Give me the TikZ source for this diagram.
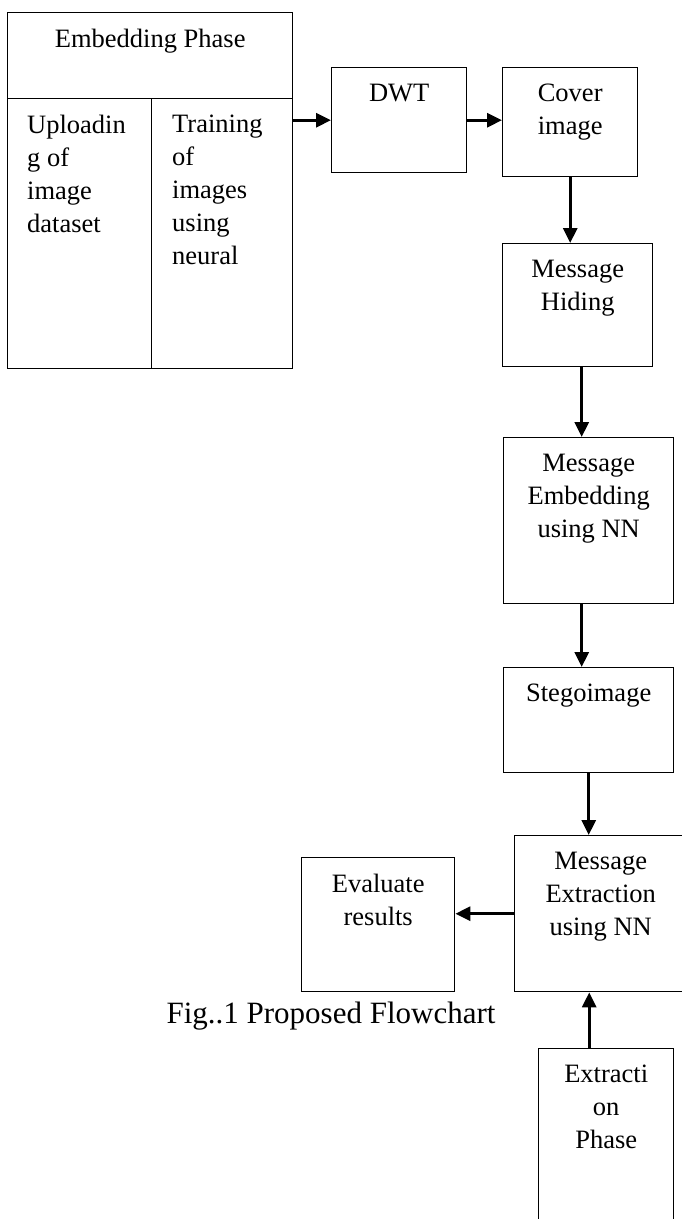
\documentclass[tikz,border=0pt]{standalone}
\usepackage{fontspec}
\setmainfont{Liberation Serif}
\usetikzlibrary{arrows.meta,positioning,calc}

\tikzset{
  blk/.style={draw, line width=1.4pt, rectangle, inner sep=0pt, anchor=north west},
  txt/.style={font=\fontsize{26.5}{33}\selectfont, align=center, inner sep=0pt, anchor=north},
  ltxt/.style={txt, align=left, anchor=north west},
  flow/.style={-{Triangle[length=15pt,width=14pt]}, line width=3pt},
}

\begin{document}
\begin{tikzpicture}[x=1pt,y=-1pt]
  \useasboundingbox (0,0) rectangle (682,1219);
  \clip (0,0) rectangle (682,1219);
  % Embedding phase block (header + two columns)
  \node[blk, minimum width=285pt, minimum height=86pt] (embhead) at (7,12) {};
  \node[blk, minimum width=144pt, minimum height=270pt] (upload) at (7,98) {};
  \node[blk, minimum width=141pt, minimum height=270pt] (train) at (151,98) {};
  \node[txt] (embhead-txt) at ([yshift=-17]embhead.north) {Embedding Phase};
  \node[ltxt] (upload-txt) at ([xshift=20,yshift=-17]upload.north west) {Uploadin\\g of\\image\\dataset};
  \node[ltxt] (train-txt) at ([xshift=21,yshift=-17]train.north west) {Training\\of\\images\\using\\neural};
  % Process boxes
  \node[blk, minimum width=135pt, minimum height=105pt] (dwt) at (331,67) {};
  \node[blk, minimum width=135pt, minimum height=109pt] (cover) at (502,67) {};
  \node[blk, minimum width=150pt, minimum height=123pt] (hiding) at (502,243) {};
  \node[blk, minimum width=170pt, minimum height=166pt] (embnn) at (503,437) {};
  \node[blk, minimum width=170pt, minimum height=105pt] (stego) at (503,667) {};
  \node[blk, minimum width=172pt, minimum height=156pt] (extnn) at (514,835) {};
  \node[blk, minimum width=153pt, minimum height=134pt] (eval) at (301,857) {};
  \node[blk, minimum width=135pt, minimum height=200pt] (extph) at (538,1048) {};
  % Box texts, hung from the top edge
  \foreach \b/\t in {dwt/DWT, cover/{Cover\\image}, hiding/{Message\\Hiding},
      embnn/{Message\\Embedding\\using NN}, stego/Stegoimage,
      extnn/{Message\\Extraction\\using NN}, eval/{Evaluate\\results},
      extph/{Extracti\\on\\Phase}} {
    \node[txt] (\b-txt) at ([yshift=-17]\b.north) {\t};
  }
  % Arrows
  \draw[flow] (train.east |- dwt.west) -- (dwt.west);
  \draw[flow] (dwt.east) -- (dwt.east -| cover.west);
  \draw[flow] (cover.south) -- (cover.south |- hiding.north);
  \draw[flow] ([xshift=4]hiding.south) -- ([xshift=4]hiding.south |- embnn.north);
  \draw[flow] ([xshift=-7]embnn.south) -- ([xshift=-7]embnn.south |- stego.north);
  \draw[flow] (stego.south) -- (stego.south |- extnn.north);
  \draw[flow] (extnn.west) -- (extnn.west -| eval.east);
  \draw[flow] ([xshift=-17]extph.north) -- ([xshift=-17]extph.north |- extnn.south);
  % Caption
  \node[font=\fontsize{31}{36}\selectfont, anchor=base] (caption) at (331,1023) {Fig..1 Proposed Flowchart};
\end{tikzpicture}
\end{document}
